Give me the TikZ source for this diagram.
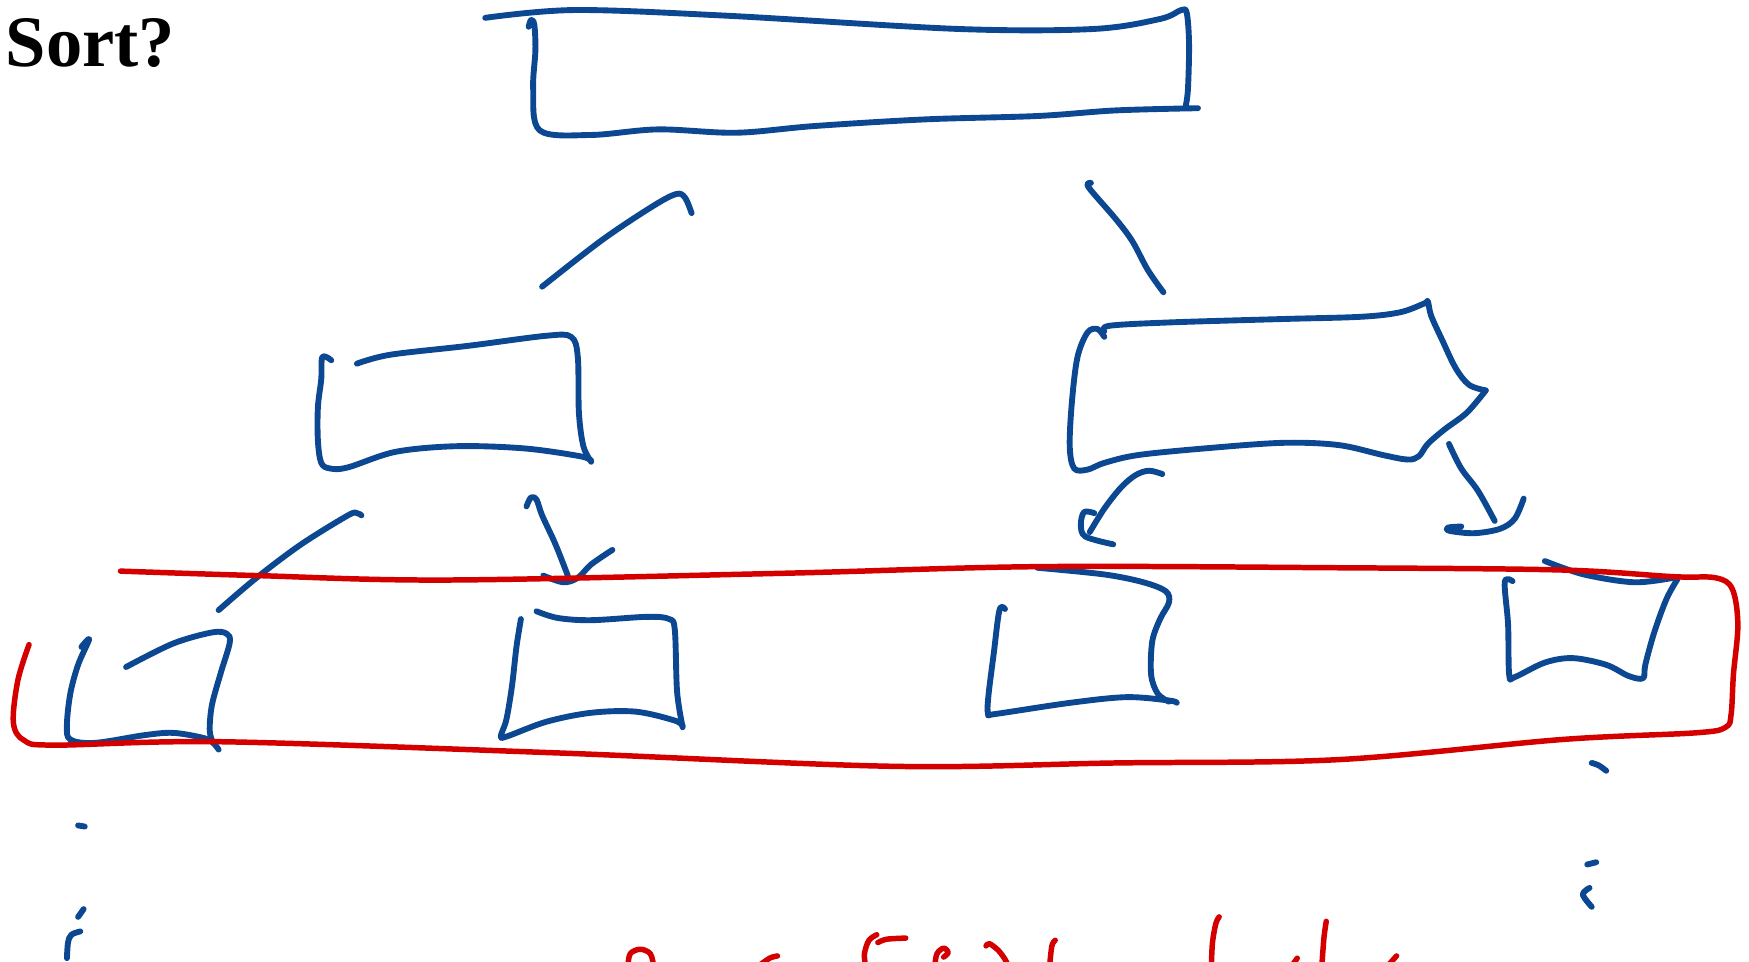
\documentclass[tikz,border=0pt]{standalone}
\usepackage{fontspec}
\setmainfont{Liberation Serif}
\definecolor{inkblue}{RGB}{12,72,145}
\definecolor{inkred}{RGB}{212,0,0}
\tikzset{
  pen/.style={draw=inkblue, line width=3pt, line cap=round, line join=round},
  redpen/.style={draw=inkred, line width=2.8pt, line cap=round, line join=round}
}
\newcommand{\ink}[1]{\draw[pen] plot[smooth, tension=0.55] coordinates {#1};}
\newcommand{\rink}[1]{\draw[redpen] plot[smooth, tension=0.55] coordinates {#1};}

\begin{document}
\begin{tikzpicture}[x=0.02cm, y=-0.02cm]
  \useasboundingbox (0,0) rectangle (1568,862);
  \clip (0,0) rectangle (1568,862);
  \node[anchor=base west, inner sep=0, font=\fontsize{37}{37}\selectfont\bfseries] (title) at (5,60) {Sort?};
  % ------------------------------------------------------------------ root
  \ink{(435,16) (515,9) (650,14) (860,26) (980,26) (1040,17) (1059,9) (1064,12) (1066,40) (1065,80) (1063,95)}
  \ink{(474,24) (476,18) (479,22) (480,45) (478,80) (484,117) (530,121) (590,116) (660,119) (730,113) (830,107) (930,104) (1000,99) (1074,97)}
  \ink{(486,257) (540,215) (585,185) (606,174) (614,177) (620,191)}
  \ink{(978,164) (976,168) (1000,196) (1015,216) (1029,242) (1043,262)}
  % ------------------------------------------------------------------ second level
  \ink{(297,323) (289,320) (288,340) (285,365) (285,395) (288,415) (296,420) (312,419) (355,405) (410,400) (470,402) (520,409) (530,413)}
  \ink{(320,326) (350,318) (420,310) (490,301) (512,302) (518,320) (519,370) (523,400) (530,414)}
  \ink{(990,302) (984,295) (975,298) (966,320) (961,360) (959,400) (963,420) (975,421) (990,415) (1020,408) (1080,402) (1150,397) (1200,399) (1240,408) (1262,412) (1272,409) (1280,398) (1295,385) (1315,370) (1332,350)}
  \ink{(990,297) (995,292) (1050,289) (1150,286) (1220,284) (1255,280) (1277,272) (1280,270) (1283,283) (1293,305) (1305,330) (1317,345) (1332,350)}
  \ink{(196,547) (230,518) (270,488) (312,462) (320,460) (324,462)}
  \ink{(472,454) (476,446) (481,448) (486,462) (498,488) (509,516)}
  \ink{(487,516) (505,522) (518,518) (530,506) (549,493)}
  \ink{(1042,425) (1030,422) (1018,426) (1005,437) (990,456) (977,477)}
  \ink{(981,460) (972,459) (969,470) (973,481) (998,488)}
  \ink{(1299,398) (1310,420) (1325,440) (1340,467)}
  \ink{(1366,447) (1358,465) (1345,474) (1322,478) (1300,476) (1298,473) (1310,472)}
  % ------------------------------------------------------------------ third level
  \ink{(73,580) (80,573) (70,596) (63,622) (60,650) (63,663) (85,666) (130,659) (155,657) (180,661) (190,665) (196,672)}
  \ink{(113,598) (155,577) (190,567) (203,568) (206,576) (198,603) (190,632) (188,655) (191,666)}
  \ink{(467,555) (463,580) (459,615) (454,645) (449,660) (455,660) (490,647) (530,639) (570,638) (605,646) (612,651)}
  \ink{(481,548) (500,554) (530,556) (580,553) (600,555) (605,565) (607,620) (612,652)}
  \ink{(901,546) (896,547) (891,585) (886,625) (886,640) (893,640) (960,630) (1010,625) (1048,628) (1055,630)}
  \ink{(930,509) (990,515) (1025,522) (1045,530) (1048,540) (1040,555) (1033,575) (1032,605) (1038,622) (1048,629)}
  \ink{(1356,521) (1349,522) (1352,560) (1353,605) (1358,607) (1385,594) (1410,590) (1440,596) (1460,606) (1473,608) (1475,596) (1483,567) (1494,537) (1504,519)}
  \ink{(1385,503) (1420,515) (1465,522) (1500,518)}
  % ------------------------------------------------------------------ red loop
  \rink{(108,512) (230,516) (400,520) (700,514) (930,508) (1200,509) (1400,511) (1500,517) (1538,518) (1553,528) (1558,560) (1554,605) (1552,640) (1547,652) (1520,657) (1400,663) (1200,681) (1000,684) (800,687) (500,675) (200,665) (50,668) (22,664) (12,648) (16,610) (26,578)}
  % ------------------------------------------------------------------ dots
  \ink{(70,740) (76,741)}
  \ink{(70,822) (75,815)}
  \ink{(60,859) (61,845) (64,838) (72,835)}
  \ink{(1427,684) (1433,686) (1440,691)}
  \ink{(1423,775) (1431,773)}
  \ink{(1425,796) (1419,802) (1427,813)}
  % ------------------------------------------------------------------ red scribbles
  \rink{(563,866) (565,855) (574,851) (583,855) (586,866)}
  \rink{(680,866) (690,859) (697,857)}
  \rink{(787,845) (795,842) (812,841)}
  \rink{(786,838) (779,843) (775,855) (776,866)}
  \rink{(838,866) (840,855) (846,850) (850,854) (846,858)}
  \rink{(884,848) (887,846) (895,852) (901,860) (904,866)}
  \rink{(946,843) (943,848) (941,866)}
  \rink{(1093,822) (1090,828) (1087,845) (1086,866)}
  \rink{(1158,866) (1163,859)}
  \rink{(1189,826) (1187,840) (1185,866)}
  \rink{(1244,866) (1252,857)}
\end{tikzpicture}
\end{document}
